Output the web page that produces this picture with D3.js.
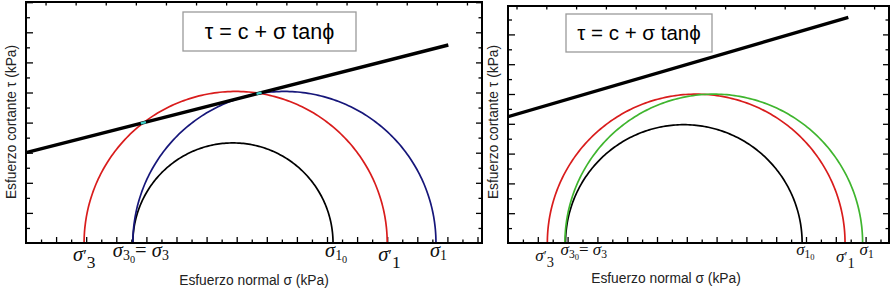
<!DOCTYPE html>
<html><head><meta charset="utf-8">
<script src="https://cdn.jsdelivr.net/npm/d3@7"></script>
<style>body{margin:0;background:#fff}svg{display:block}</style>
</head><body><svg id="c" width="895" height="292"></svg>
<script>
// ---------------- data (kPa, arbitrary units) ----------------
const circleKeys = ["inicial", "efectivo", "total"];
const leftSigma3 = [3.55, 1.93, 3.55];
const leftSigma1 = [10.20, 12.00, 13.62];
const rightSigma3 = [1.93, 1.32, 1.91];
const rightSigma1 = [9.87, 11.31, 11.90];
const leftEnvelope = [3.00, 0.255];   // c, tan(phi)
const rightEnvelope = [4.24, 0.2916];
const envelopeEnd = [14.03, 11.42];
const equationText = "τ = c + σ tanϕ";
const xAxisTitle = "Esfuerzo normal σ (kPa)";
const yAxisTitle = "Esfuerzo cortante τ (kPa)";
// tick labels: which circle / which sigma they mark
const tickLabelCircle = [1, 0, 0, 1, 2];
const tickLabelSigma = ["s3", "s3", "s1", "s1", "s1"];
const tickLabelParts = [
  [["σ", "i"], ["′", "p"], ["3", "S"]],
  [["σ", "i"], ["3", "s"], ["0", "ss"], ["= ", "n"], ["σ", "i"], ["3", "s"]],
  [["σ", "i"], ["1", "s"], ["0", "ss"]],
  [["σ", "i"], ["′", "p"], ["1", "S"]],
  [["σ", "i"], ["1", "s"]]
];

// ---------------- layout ----------------
const svg = d3.select("#c");
const panels = [
  { s3: leftSigma3, s1: leftSigma1, env: leftEnvelope, end: envelopeEnd[0],
    x0: 26, x1: 482, y0: 2, y1: 243, k: 30.1,
    colors: ["#000000", "#d91c1c", "#16167a"], marks: true,
    box: [183, 12, 356, 51], eqSize: 21.5, eqY: 38.5,
    yt: [16, 122], xt: [254, 285],
    lab: { size: 20.5, dx: [-11, -20, -8, -9, -6], base: [260.5, 256.5, 256.5, 260.5, 256.5] } },
  { s3: rightSigma3, s1: rightSigma1, env: rightEnvelope, end: envelopeEnd[1],
    x0: 508, x1: 889, y0: 6, y1: 243, k: 29.8,
    colors: ["#000000", "#d91c1c", "#3fb52e"], marks: false,
    box: [566, 14, 712, 52], eqSize: 20.5, eqY: 39.5,
    yt: [497.5, 122], xt: [666, 283],
    lab: { size: 17, dx: [-12, -5, -6, -9, -3], base: [261, 255, 255, 262, 255] } }
];

panels.forEach(p => {
  const xmax = (p.x1 - p.x0) / p.k, ymax = (p.y1 - p.y0) / p.k;
  const xs = d3.scaleLinear().domain([0, xmax]).range([p.x0, p.x1]);
  const ys = d3.scaleLinear().domain([0, ymax]).range([p.y1, p.y0]);
  const g = svg.append("g");

  // ticks
  const tick = (axis, tr) => {
    const a = g.append("g").attr("transform", tr).call(axis);
    a.select(".domain").remove();
    a.selectAll("line").attr("stroke", "#000").attr("stroke-width", 1.3);
  };
  const xMaj = d3.range(1, xmax, 1), xMin = d3.range(0.5, xmax, 1);
  const yMaj = d3.range(1, ymax, 1), yMin = d3.range(0.5, ymax, 1);
  tick(d3.axisBottom(xs).tickValues(xMaj).tickSize(-6).tickFormat(""), `translate(0,${p.y1})`);
  tick(d3.axisBottom(xs).tickValues(xMin).tickSize(-3.5).tickFormat(""), `translate(0,${p.y1})`);
  tick(d3.axisLeft(ys).tickValues(yMaj).tickSize(-7).tickFormat(""), `translate(${p.x0},0)`);
  tick(d3.axisLeft(ys).tickValues(yMin).tickSize(-4).tickFormat(""), `translate(${p.x0},0)`);
  tick(d3.axisRight(ys).tickValues(yMaj).tickSize(-6).tickFormat(""), `translate(${p.x1},0)`);
  tick(d3.axisRight(ys).tickValues(yMin).tickSize(-3.5).tickFormat(""), `translate(${p.x1},0)`);
  tick(d3.axisTop(xs).tickValues(d3.range(xmax - 0.5, 0, -1)).tickSize(-3.5).tickFormat(""), `translate(0,${p.y0})`);

  // Mohr circles
  const angles = d3.range(0, 181, 1).map(d => d * Math.PI / 180);
  circleKeys.forEach((key, i) => {
    const c = (p.s3[i] + p.s1[i]) / 2, r = (p.s1[i] - p.s3[i]) / 2;
    const line = d3.line().x(t => xs(c + r * Math.cos(t))).y(t => ys(r * Math.sin(t)));
    g.append("path").attr("d", line(angles)).attr("fill", "none")
      .attr("stroke", p.colors[i]).attr("stroke-width", 1.7);
  });

  // failure envelope
  const [cc, m] = p.env;
  const envLine = d3.line().x(d => xs(d)).y(d => ys(cc + m * d));
  g.append("path").attr("d", envLine([0, p.end])).attr("fill", "none")
    .attr("stroke", "#000").attr("stroke-width", 3.4);

  // intersection marks with effective circle
  if (p.marks) {
    const c = (p.s3[1] + p.s1[1]) / 2, r = (p.s1[1] - p.s3[1]) / 2;
    const A = 1 + m * m, B = -2 * c + 2 * cc * m, C = c * c + cc * cc - r * r;
    const disc = Math.sqrt(B * B - 4 * A * C);
    [(-B - disc) / (2 * A), (-B + disc) / (2 * A)].forEach(x => {
      const px = xs(x), py = ys(cc + m * x);
      const ang = Math.atan(m), L = 2.6;
      g.append("line")
        .attr("x1", px - L * Math.cos(ang)).attr("y1", py + L * Math.sin(ang))
        .attr("x2", px + L * Math.cos(ang)).attr("y2", py - L * Math.sin(ang))
        .attr("stroke", "#3ccfc8").attr("stroke-width", 2.4);
    });
  }

  // frame
  g.append("rect").attr("x", p.x0).attr("y", p.y0)
    .attr("width", p.x1 - p.x0).attr("height", p.y1 - p.y0)
    .attr("fill", "none").attr("stroke", "#000").attr("stroke-width", 2);

  // equation box
  const [bx0, by0, bx1, by1] = p.box;
  g.append("rect").attr("x", bx0).attr("y", by0).attr("width", bx1 - bx0).attr("height", by1 - by0)
    .attr("fill", "#fff").attr("stroke", "#9a9a9a").attr("stroke-width", 1.3);
  g.append("text").attr("x", (bx0 + bx1) / 2).attr("y", p.eqY)
    .attr("text-anchor", "middle").attr("font-family", "Liberation Sans, Arial, sans-serif")
    .attr("font-size", p.eqSize).attr("fill", "#000").text(equationText);

  // axis titles
  g.append("text").attr("transform", `translate(${p.yt[0]},${p.yt[1]}) rotate(-90)`)
    .attr("text-anchor", "middle").attr("font-family", "Liberation Sans, Arial, sans-serif")
    .attr("font-size", 13.8).attr("fill", "#222").text(yAxisTitle);
  g.append("text").attr("x", p.xt[0]).attr("y", p.xt[1])
    .attr("text-anchor", "middle").attr("font-family", "Liberation Sans, Arial, sans-serif")
    .attr("font-size", 13.8).attr("fill", "#222").text(xAxisTitle);

  // tick labels
  const fs = p.lab.size;
  const role = {
    i: { size: fs, off: 0, style: "italic" },
    p: { size: fs * 0.8, off: 0, style: "normal" },
    S: { size: fs * 0.85, off: fs * 0.38, style: "normal" },
    s: { size: fs * 0.68, off: fs * 0.15, style: "normal" },
    ss: { size: fs * 0.5, off: fs * 0.3, style: "normal" },
    n: { size: fs, off: 0, style: "normal" }
  };
  tickLabelParts.forEach((parts, j) => {
    const ci = tickLabelCircle[j];
    const v = tickLabelSigma[j] === "s3" ? p.s3[ci] : p.s1[ci];
    const t = g.append("text").attr("x", xs(v) + p.lab.dx[j]).attr("y", p.lab.base[j])
      .attr("font-family", "Liberation Serif, Times New Roman, serif").attr("fill", "#111")
      .style("white-space", "pre");
    let cur = 0;
    parts.forEach(([txt, rl]) => {
      const R = role[rl];
      t.append("tspan").attr("dy", R.off - cur).attr("font-size", R.size)
        .attr("font-style", R.style).text(txt);
      cur = R.off;
    });
  });
});
</script></body></html>
